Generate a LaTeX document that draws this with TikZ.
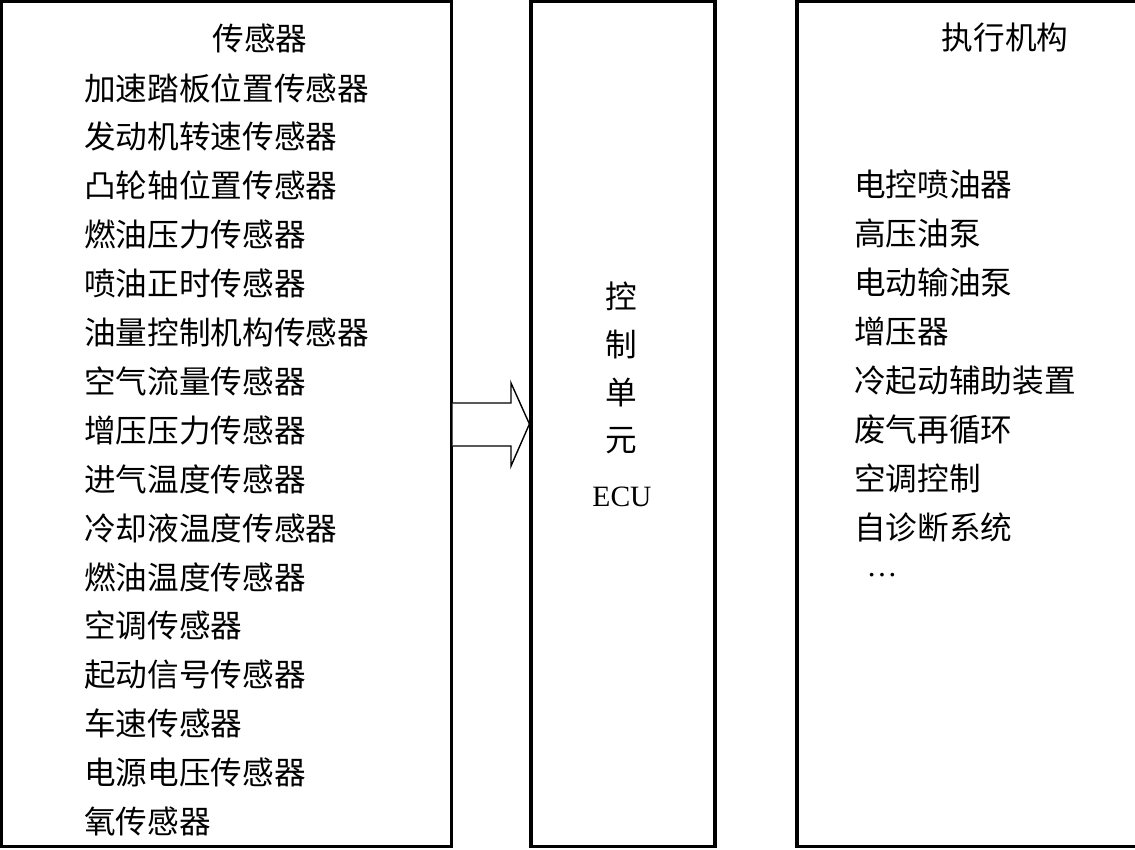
\documentclass[tikz,border=0pt]{standalone}
\usepackage{fontspec}
\setmainfont{Liberation Serif}
\newfontfamily\cjk{Noto Sans CJK SC}
\usepackage{tikz}
\usetikzlibrary{positioning}

\tikzset{
  caja/.style={draw, line width=2.2pt, inner sep=0pt, minimum height=21.1cm},
  texto/.style={inner sep=0pt, font=\cjk\fontsize{22.5}{24}\selectfont},
  item/.style={texto, anchor=west},
  flecha/.style={draw, line width=1pt, fill=white}
}

\begin{document}
\begin{tikzpicture}[x=0.025cm, y=-0.025cm]

\useasboundingbox (0,0) rectangle (1135,849);

\node[caja, minimum width=11.225cm] (sensores) at (226.5,424) {};  % Sensores
\node[caja, minimum width=4.6cm] (ecu) at (623,424) {};            % ECU
\node[caja, minimum width=8.575cm] (actuadores) at (968.5,424) {}; % Actuadores

\node[texto] (tsens) at (260,38) {传感器};
\foreach \nombre [count=\i] in {加速踏板位置传感器, 发动机转速传感器, 凸轮轴位置传感器,
  燃油压力传感器, 喷油正时传感器, 油量控制机构传感器, 空气流量传感器,
  增压压力传感器, 进气温度传感器, 冷却液温度传感器, 燃油温度传感器,
  空调传感器, 起动信号传感器, 车速传感器, 电源电压传感器, 氧传感器}
  \node[item] (s\i) at (84,{39+48.9*\i}) {\nombre};

\node[texto] (c1) at (621,296) {控};
\node[texto] (c2) at (621,345) {制};
\node[texto] (c3) at (621,393) {单};
\node[texto] (c4) at (621,441) {元};
\node[inner sep=0pt, font=\fontsize{21}{24}\selectfont] (c5) at (622,497) {ECU};

\node[texto] (tact) at (1005,38) {执行机构};
\foreach \nombre [count=\i] in {电控喷油器, 高压油泵, 电动输油泵, 增压器,
  冷起动辅助装置, 废气再循环, 空调控制, 自诊断系统}
  \node[item] (a\i) at (854,{136+48.9*\i}) {\nombre};
\node[inner sep=0pt, anchor=base, font=\fontsize{22}{24}\selectfont] (puntos) at (882,576) {…};

% flecha hueca de sensores a la ECU
\draw[flecha] (sensores.east |- 0,403) -- (511,403) -- (511,383)
  -- (ecu.west |- 0,424) -- (511,466) -- (511,446) -- (sensores.east |- 0,446);

\end{tikzpicture}
\end{document}
